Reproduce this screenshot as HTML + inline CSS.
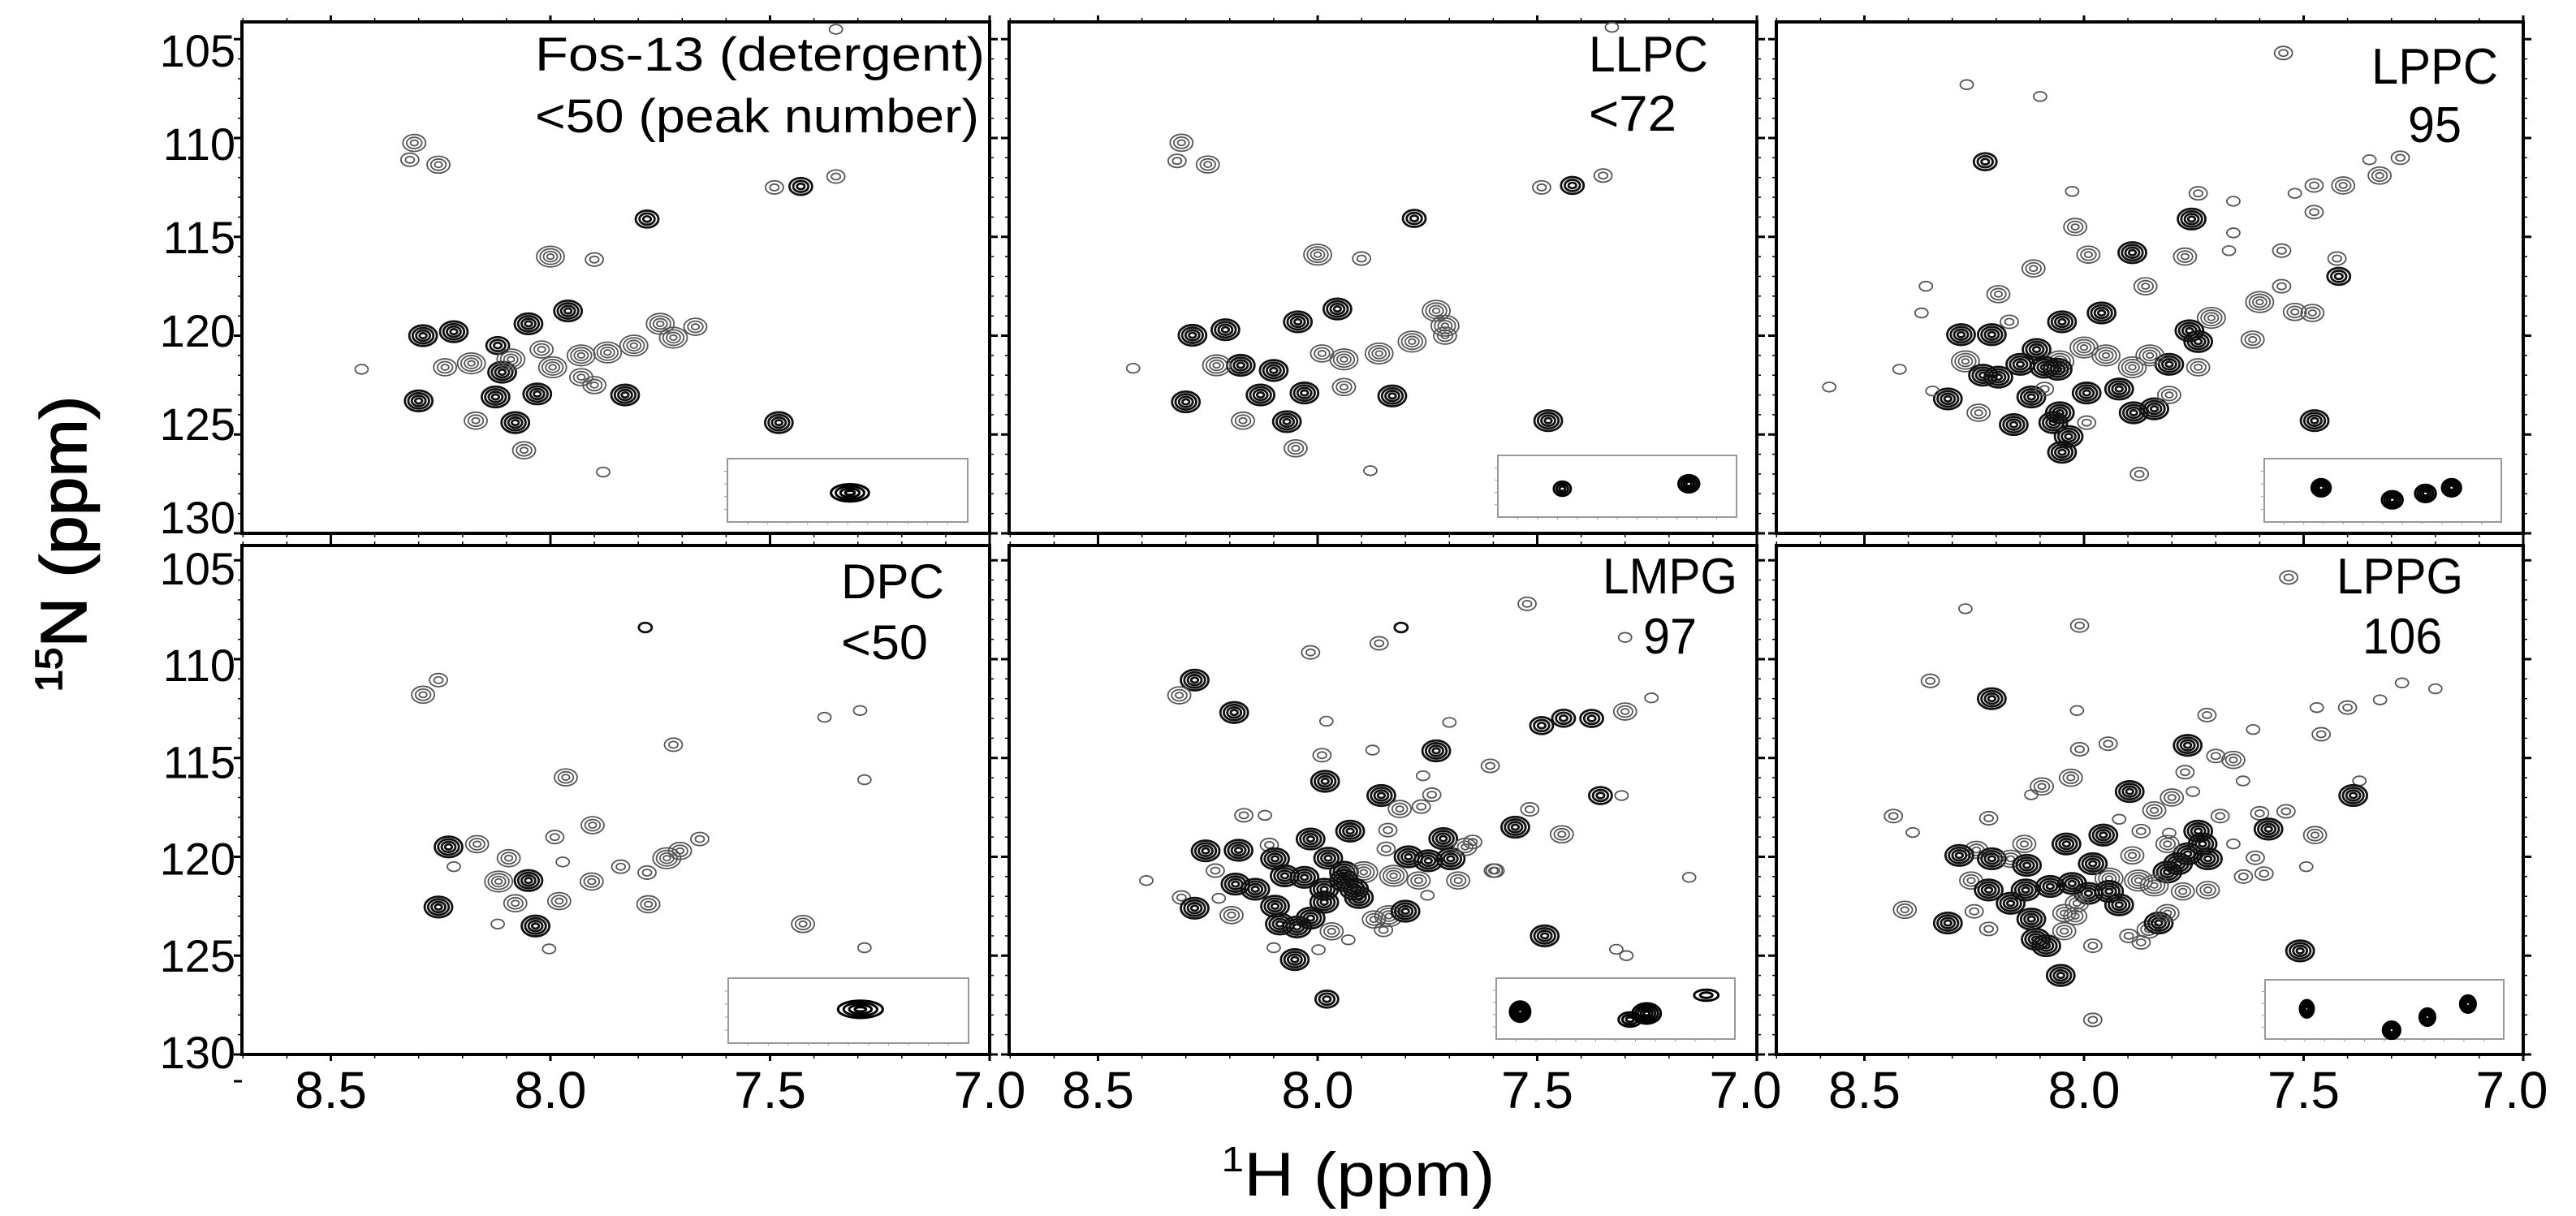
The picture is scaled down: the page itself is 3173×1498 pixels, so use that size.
<!DOCTYPE html>
<html><head><meta charset="utf-8"><title>HSQC spectra of protein in six detergents</title>
<style>
html,body{margin:0;padding:0;background:#fff;}
svg{display:block;}
text{font-family:"Liberation Sans",Arial,sans-serif;fill:#000;}
</style></head>
<body>
<svg id="fig" xmlns="http://www.w3.org/2000/svg" width="3173" height="1498" viewBox="0 0 3173 1498">
<rect x="0" y="0" width="3173" height="1498" fill="#fff"/>
<g id="panels"></g>
<g id="labels">
  <text x="659" y="87" font-size="58" textLength="554" lengthAdjust="spacingAndGlyphs">Fos-13 (detergent)</text>
  <text x="659" y="163" font-size="58" textLength="547" lengthAdjust="spacingAndGlyphs">&lt;50 (peak number)</text>
  <text x="1957" y="88" font-size="62" textLength="147" lengthAdjust="spacingAndGlyphs">LLPC</text>
  <text x="1957" y="161" font-size="62" textLength="108" lengthAdjust="spacingAndGlyphs">&lt;72</text>
  <text x="2921" y="103" font-size="62" textLength="156" lengthAdjust="spacingAndGlyphs">LPPC</text>
  <text x="2966" y="175" font-size="62" textLength="66" lengthAdjust="spacingAndGlyphs">95</text>
  <text x="1036" y="737" font-size="60" textLength="127" lengthAdjust="spacingAndGlyphs">DPC</text>
  <text x="1036" y="812" font-size="60" textLength="107" lengthAdjust="spacingAndGlyphs">&lt;50</text>
  <text x="1974" y="731" font-size="62" textLength="166" lengthAdjust="spacingAndGlyphs">LMPG</text>
  <text x="2024" y="805" font-size="62" textLength="66" lengthAdjust="spacingAndGlyphs">97</text>
  <text x="2878" y="731" font-size="62" textLength="156" lengthAdjust="spacingAndGlyphs">LPPG</text>
  <text x="2910" y="805" font-size="62" textLength="98" lengthAdjust="spacingAndGlyphs">106</text>
</g>
<g transform="translate(106,670) rotate(-90)">
  <text x="0" y="0" text-anchor="middle" font-size="80" textLength="365" lengthAdjust="spacingAndGlyphs" style="stroke:#000;stroke-width:1.5"><tspan font-size="46" dy="-30">15</tspan><tspan dy="30">N (ppm)</tspan></text>
</g>
<text x="1673" y="1473" text-anchor="middle" font-size="76" textLength="337" lengthAdjust="spacingAndGlyphs"><tspan font-size="44" dy="-30">1</tspan><tspan dy="30">H (ppm)</tspan></text>
<line x1="288" y1="1332" x2="298" y2="1332" stroke="#000" stroke-width="3"/>
</svg>
<script>
// ---- data: peaks as [1H ppm, 15N ppm, contour levels, strong(1)/weak(0)] ----
const peaksFos13 = [
[8.31,110.25,3,0],[8.32,111.1,2,0],[8.255,111.35,3,0],[7.49,112.5,2,0],[7.43,112.45,3,1],[7.35,111.95,2,0],
[7.78,114.1,3,1],[8.00,116.0,4,0],[7.90,116.15,2,0],[7.96,118.75,4,1],[8.29,120.0,4,1],[8.22,119.8,4,1],
[8.12,120.5,3,1],[8.11,121.85,4,1],[8.05,119.4,4,1],[8.30,123.3,4,1],[8.125,123.1,4,1],[8.03,122.95,4,1],
[8.08,124.4,4,1],[8.17,124.3,3,0],[7.83,123.0,4,1],[8.06,125.8,3,0],[7.48,124.4,4,1],[7.88,126.9,1,0],
[8.18,121.4,4,0],[8.09,121.2,4,0],[7.995,121.6,4,0],[7.93,121.0,4,0],[7.87,120.85,4,0],[7.81,120.5,4,0],
[7.75,119.4,4,0],[7.72,120.1,4,0],[7.67,119.55,3,0],[7.93,122.1,3,0],[7.90,122.5,3,0],[8.24,121.6,3,0],
[8.02,120.7,3,0],[8.43,121.7,1,0],[7.35,104.5,1,0]
];
const peaksLLPC = [
[8.31,110.24,3,0],[8.32,111.16,2,0],[8.25,111.34,3,0],[7.49,112.5,2,0],[7.42,112.4,3,1],[7.35,111.9,2,0],
[7.78,114.07,3,1],[8.00,115.9,4,0],[7.90,116.1,2,0],[7.955,118.65,4,1],[8.285,119.98,4,1],[8.21,119.7,4,1],
[8.045,119.3,4,1],[8.10,121.76,4,1],[8.175,121.5,4,1],[8.30,123.35,4,1],[8.13,123.0,4,1],[8.03,122.9,4,1],
[8.07,124.35,4,1],[8.17,124.3,3,0],[7.83,123.05,4,1],[8.05,125.7,3,0],[7.475,124.3,4,1],[7.88,126.83,1,0],
[8.42,121.65,1,0],[7.73,118.74,4,0],[7.71,119.5,4,0],[7.785,120.3,4,0],[7.86,120.9,4,0],[7.94,121.2,4,0],
[7.99,120.9,3,0],[8.23,121.5,4,0],[7.71,120.0,3,0],[7.94,122.6,3,0],[7.33,104.4,1,0]
];
const peaksLPPC = [
[7.546,105.7,2,0],[8.267,107.3,1,0],[8.10,107.9,1,0],[8.225,111.2,3,1],[7.28,111.0,2,0],[7.35,111.1,1,0],
[7.327,111.9,3,0],[7.41,112.4,3,0],[7.476,112.4,2,0],[7.52,112.8,1,0],[8.027,112.7,1,0],[7.74,112.8,2,0],
[7.66,113.2,1,0],[7.755,114.1,4,1],[7.476,113.75,2,0],[8.02,114.5,3,0],[7.66,114.8,1,0],[7.99,115.9,3,0],
[7.89,115.8,4,1],[7.77,116.0,3,0],[7.67,115.7,1,0],[7.55,115.7,2,0],[7.424,116.1,2,0],[7.42,117.0,3,1],
[8.115,116.6,3,0],[8.36,117.5,1,0],[8.37,118.85,1,0],[8.195,117.9,3,0],[7.86,117.5,3,0],[7.55,117.5,2,0],
[7.60,118.3,4,0],[7.52,118.8,3,0],[7.48,118.85,3,0],[8.17,119.3,2,0],[7.96,118.85,4,1],[8.05,119.3,4,1],
[8.28,119.95,4,1],[8.21,119.95,4,1],[8.108,120.7,4,1],[7.71,119.1,4,0],[7.616,120.2,3,0],[7.76,119.75,4,1],
[7.74,120.3,4,1],[7.806,121.45,4,1],[7.74,121.6,3,0],[8.27,121.3,4,0],[8.0,120.6,4,0],[7.95,121.0,4,0],
[7.89,121.6,4,0],[7.85,121.0,4,0],[8.055,121.3,4,0],[8.23,122.0,4,1],[8.195,122.1,4,1],[8.145,121.45,4,1],
[8.09,121.6,4,1],[8.06,121.7,4,1],[8.31,123.2,4,1],[8.24,123.9,3,0],[8.12,123.1,4,1],[7.994,122.9,4,1],
[7.92,122.7,4,1],[8.09,122.7,2,0],[8.16,124.5,4,1],[8.055,123.9,4,1],[8.07,124.4,4,1],[8.035,125.1,4,1],
[8.05,125.9,4,1],[7.887,123.9,4,1],[7.84,123.7,4,1],[7.806,123.0,3,0],[7.994,124.4,2,0],[7.475,124.3,4,1],
[7.874,127.0,2,0],[8.58,122.6,1,0],[8.42,121.7,1,0],[8.345,122.8,1,0]
];
const peaksDPC = [
[7.784,108.4,1,1],[8.255,111.06,2,0],[8.29,111.8,3,0],[7.376,112.94,1,0],[7.295,112.6,1,0],[7.72,114.33,2,0],
[7.965,115.98,3,0],[7.285,116.1,1,0],[7.904,118.4,3,0],[7.99,119.0,2,0],[8.232,119.5,4,1],[8.167,119.36,3,0],
[8.05,121.2,4,1],[8.118,121.25,4,0],[8.095,120.07,3,0],[7.972,120.26,1,0],[7.906,121.25,3,0],[7.84,120.5,2,0],
[7.735,120.07,4,0],[7.705,119.7,3,0],[7.66,119.1,2,0],[7.78,120.8,2,0],[8.255,122.54,4,1],[8.08,122.35,3,0],
[7.98,122.24,3,0],[7.777,122.4,3,0],[8.034,123.5,4,1],[8.12,123.4,1,0],[8.003,124.66,1,0],[7.425,123.4,3,0],
[7.285,124.6,1,0],[8.22,120.5,1,0]
];
const peaksLMPG = [
[7.523,107.2,2,0],[7.81,108.4,1,1],[7.86,109.2,2,0],[8.016,109.66,2,0],[7.30,108.9,1,0],[8.28,111.06,4,1],
[8.315,111.83,3,0],[8.19,112.7,4,1],[7.98,113.14,1,0],[7.70,113.2,1,0],[7.49,113.36,3,1],[7.44,112.99,3,1],
[7.376,113.0,3,1],[7.30,112.65,3,0],[7.24,111.96,1,0],[7.73,114.64,4,1],[7.99,114.86,2,0],[7.875,114.6,1,0],
[7.607,115.4,2,0],[7.76,115.9,1,0],[7.983,116.18,4,1],[7.855,116.9,4,1],[7.74,116.86,2,0],[7.813,117.58,3,0],
[7.764,117.46,2,0],[7.356,116.9,3,1],[7.308,116.9,1,0],[7.517,117.6,2,0],[8.168,117.9,2,0],[8.12,117.9,1,0],
[7.926,118.7,4,1],[7.84,118.65,2,0],[8.016,119.1,4,1],[7.55,118.5,4,1],[7.444,118.86,3,0],[8.255,119.7,4,1],
[8.18,119.67,4,1],[8.11,119.4,2,0],[7.844,119.6,2,0],[8.097,120.1,4,1],[7.976,120.07,4,1],[7.793,120.0,4,1],
[7.748,120.2,4,1],[7.714,119.08,4,1],[7.697,120.1,4,1],[7.664,119.5,3,0],[7.647,119.25,2,0],[7.60,120.7,2,0],
[8.233,120.7,2,0],[8.187,121.38,4,1],[8.142,121.64,4,1],[8.075,120.96,4,1],[8.03,121.04,4,1],[7.94,120.78,4,1],
[7.895,120.78,4,0],[7.94,121.2,4,1],[7.985,121.64,4,1],[7.917,121.64,4,1],[7.827,120.96,4,0],[7.77,121.2,3,0],
[7.68,121.2,3,0],[7.985,122.3,4,1],[7.906,122.06,4,1],[8.31,122.06,2,0],[8.225,122.1,1,0],[8.28,122.6,4,1],
[8.196,122.95,3,0],[8.097,122.5,4,1],[8.086,123.4,4,1],[8.047,123.55,4,1],[8.016,123.1,4,1],[7.968,123.77,3,0],
[7.872,123.17,3,0],[7.838,123.0,4,0],[7.80,122.75,4,1],[7.85,123.7,2,0],[7.75,121.95,1,0],[7.154,121.04,1,0],
[8.39,121.2,1,0],[7.483,124.0,4,1],[8.10,124.6,1,0],[8.052,125.2,4,1],[7.998,124.7,1,0],[7.93,124.2,1,0],
[7.32,124.68,1,0],[7.297,125.0,1,0],[7.979,127.2,3,1],[7.596,120.7,2,0]
];
const peaksLPPG = [
[7.534,105.87,2,0],[8.27,107.45,1,0],[8.01,108.3,2,0],[8.35,111.1,2,0],[8.21,112.0,4,1],[8.016,112.6,1,0],
[7.276,111.2,1,0],[7.20,111.5,1,0],[7.326,112.06,1,0],[7.40,112.45,2,0],[7.47,112.45,1,0],[7.46,113.8,2,0],
[7.72,112.83,2,0],[7.615,113.56,1,0],[7.764,114.36,4,1],[7.945,114.28,2,0],[8.01,114.56,2,0],[7.66,115.1,3,0],
[7.70,114.9,2,0],[7.77,115.72,2,0],[7.638,116.16,1,0],[8.03,116.0,3,0],[8.096,116.44,3,0],[8.12,116.86,1,0],
[7.896,116.7,4,1],[7.752,116.7,1,0],[7.80,117.0,3,0],[7.84,117.65,3,0],[7.373,116.16,1,0],[7.387,116.9,4,1],
[7.69,117.94,2,0],[7.60,117.8,2,0],[7.54,117.7,2,0],[8.434,117.94,2,0],[8.217,118.05,2,0],[8.39,118.77,1,0],
[7.92,118.1,1,0],[7.956,118.9,4,1],[7.87,118.7,2,0],[7.806,118.8,1,0],[7.58,118.6,4,1],[7.474,118.9,3,0],
[8.04,119.35,4,1],[8.136,119.35,3,0],[8.245,119.65,3,0],[7.89,119.93,3,0],[7.66,119.35,1,0],[8.284,119.93,4,1],
[8.21,120.1,4,1],[8.167,120.1,3,0],[8.13,120.43,4,1],[7.74,118.7,4,1],[7.73,119.35,4,1],[7.764,119.85,4,1],
[7.718,120.1,4,1],[7.786,120.35,4,1],[7.81,120.77,4,1],[7.81,119.35,3,0],[7.61,120.05,2,0],[7.59,120.85,2,0],
[7.637,121.0,2,0],[7.494,120.5,1,0],[8.257,121.2,3,0],[8.217,121.68,4,1],[8.167,122.35,4,1],[8.133,121.68,4,1],
[8.077,121.5,4,1],[8.027,121.35,4,1],[7.98,120.35,4,1],[7.943,121.1,4,0],[7.99,121.85,4,1],[7.943,121.75,4,1],
[7.876,121.2,4,0],[7.84,121.45,4,0],[7.775,121.75,3,0],[7.718,121.68,3,0],[8.016,122.35,3,0],[7.92,122.43,4,1],
[8.408,122.68,3,0],[8.25,122.76,2,0],[8.31,123.35,4,1],[8.217,123.65,2,0],[8.12,123.15,4,1],[8.045,122.85,3,0],
[8.02,123.0,3,0],[8.11,124.17,4,1],[8.086,124.5,4,1],[8.045,123.76,3,0],[7.98,124.5,2,0],[7.898,124.0,2,0],
[7.853,123.68,3,0],[7.83,123.35,4,1],[7.81,122.85,3,0],[7.87,124.33,2,0],[7.508,124.76,4,1],[8.053,126.0,4,1],
[7.98,128.25,2,0]
];
// inset peaks: [fraction across inset, fraction down inset, levels, elongation]
const insetFos13 = [[0.51,0.54,4,2.2]];
const insetLLPC = [[0.27,0.54,3,1.2],[0.80,0.46,4,1.2]];
const insetLPPC = [[0.24,0.46,4,1.1],[0.54,0.65,4,1.2],[0.68,0.55,4,1.2],[0.79,0.46,4,1.1]];
const insetDPC = [[0.55,0.48,4,2.6]];
const insetLMPG = [[0.10,0.55,5,1.0],[0.63,0.58,5,1.4],[0.56,0.68,3,1.6],[0.88,0.28,2,2.2]];
const insetLPPG = [[0.175,0.49,4,0.8],[0.53,0.85,4,1.0],[0.68,0.63,4,0.9],[0.85,0.41,4,0.9]];
// axis ticks
const hMajorTicks = [8.5, 8.0, 7.5, 7.0];
const hTickLabels = ["8.5", "8.0", "7.5", "7.0"];
const nMajorTicks = [105, 110, 115, 120, 125, 130];
const nTickLabels = ["105", "110", "115", "120", "125", "130"];

// ---- layout ----
const NS = "http://www.w3.org/2000/svg";
const colLeft = [298, 1243, 2188], colRight = [1219, 2164, 3108];
const rowTop = [27, 672], rowBottom = [657, 1299];
const pxPerPpmH = 541, pxPerPpmN = 24.35;
function xScale(col, h) { return colRight[col] - (h - 7.0) * pxPerPpmH; }
function yScale(row, n) { return rowBottom[row] - (130 - n) * pxPerPpmN; }
const panelDefs = [
  {name: "fos13", row: 0, col: 0, peaks: peaksFos13, inset: insetFos13, box: [896, 565, 296, 78]},
  {name: "llpc", row: 0, col: 1, peaks: peaksLLPC, inset: insetLLPC, box: [1845, 561, 294, 76]},
  {name: "lppc", row: 0, col: 2, peaks: peaksLPPC, inset: insetLPPC, box: [2789, 565, 292, 78]},
  {name: "dpc", row: 1, col: 0, peaks: peaksDPC, inset: insetDPC, box: [897, 1205, 296, 80]},
  {name: "lmpg", row: 1, col: 1, peaks: peaksLMPG, inset: insetLMPG, box: [1843, 1205, 294, 75]},
  {name: "lppg", row: 1, col: 2, peaks: peaksLPPG, inset: insetLPPG, box: [2790, 1207, 294, 73]}
];
function mk(tag, attrs, parent) {
  const e = document.createElementNS(NS, tag);
  for (const k in attrs) e.setAttribute(k, attrs[k]);
  parent.appendChild(e);
  return e;
}
const root = document.getElementById("panels");

panelDefs.forEach(function (p) {
  const g = mk("g", {}, root);
  
  
  const L = colLeft[p.col], R = colRight[p.col], T = rowTop[p.row], B = rowBottom[p.row];
  const tg = mk("g", {stroke: "#000", "stroke-width": 2}, g);
  
  
  for (let n = 104; n <= 130; n++) {
    const y = yScale(p.row, n);
    if (y < T) continue;
    const len = (n % 5 === 0) ? 10 : 5;
    const t1 = mk("line", {x1: L - len, y1: y, x2: L, y2: y, "stroke-width": n % 5 === 0 ? 3 : 1.5}, tg);
    
    
    const t2 = mk("line", {x1: R, y1: y, x2: R + len, y2: y, "stroke-width": n % 5 === 0 ? 3 : 1.5}, tg);
    
    
  }
  for (let i = 0; i <= 17; i++) {
    const h = 7.0 + i * 0.1;
    const x = xScale(p.col, h);
    if (x < L) continue;
    const major = (i % 5 === 0);
    const len = major ? 8 : 5;
    const t3 = mk("line", {x1: x, y1: T - len, x2: x, y2: T, "stroke-width": major ? 3 : 1.5}, tg);
    
    
    const t4 = mk("line", {x1: x, y1: B, x2: x, y2: B + len, "stroke-width": major ? 3 : 1.5}, tg);
    
    
  }
  const fr = mk("rect", {x: L, y: T, width: R - L, height: B - T, fill: "none", stroke: "#000", "stroke-width": 4}, g);
  
  
  const pg = mk("g", {fill: "none"}, g);
  
  
  p.peaks.forEach(function (pk) {
    const cx = xScale(p.col, pk[0]), cy = yScale(p.row, pk[1]);
    const lv = pk[2], strong = pk[3] === 1;
    const rx = 5 + lv * 3.0, ry = 3.5 + lv * 2.3;
    const pkG = mk("g", {stroke: strong ? "#111" : "#555", "stroke-width": strong ? 2.8 : 1.8}, pg);
    
    
    for (let k = lv; k >= 1; k--) {
      const el = mk("ellipse", {cx: cx, cy: cy, rx: rx * k / lv, ry: ry * k / lv}, pkG);
      
      
    }
  });
  const b = p.box;
  const ig = mk("g", {}, g);
  
  
  const ib = mk("rect", {x: b[0], y: b[1], width: b[2], height: b[3], fill: "#fff", stroke: "#999", "stroke-width": 2}, ig);
  
  
  for (let i = 1; i < 12; i++) {
    const x = b[0] + b[2] * i / 12;
    const it = mk("line", {x1: x, y1: b[1] + b[3], x2: x, y2: b[1] + b[3] + 3, stroke: "#999", "stroke-width": 1}, ig);
    
    
  }
  for (let i = 1; i < 5; i++) {
    const y = b[1] + b[3] * i / 5;
    const it2 = mk("line", {x1: b[0] - 4, y1: y, x2: b[0], y2: y, stroke: "#999", "stroke-width": 1}, ig);
    
    
  }
  p.inset.forEach(function (q) {
    const cx = b[0] + q[0] * b[2], cy = b[1] + q[1] * b[3];
    const lv = q[2], ry = 3 + lv * 1.9, rx = ry * q[3];
    for (let k = lv; k >= 1; k--) {
      const ie = mk("ellipse", {cx: cx, cy: cy, rx: rx * k / lv, ry: ry * k / lv, fill: "none", stroke: "#000", "stroke-width": 3}, ig);
      
      
    }
  });
  if (p.col === 0) {
    nMajorTicks.forEach(function (n, i) {
      const center = (p.row === 0 ? 62 : 700) + (n - 105) / 25 * (p.row === 0 ? 575 : 596);
      const tl = mk("text", {x: 290, y: center + 20, "text-anchor": "end", "font-size": 56}, g);
      tl.textContent = nTickLabels[i];
      
      
    });
  }
  if (p.row === 1) {
    hMajorTicks.forEach(function (h, i) {
      const xl = mk("text", {x: xScale(p.col, h) - (h === 7.0 && p.col > 0 ? 14 : 0), y: 1365, "text-anchor": "middle", "font-size": 64}, g);
      xl.textContent = hTickLabels[i];
      
      
    });
  }
});
</script>
</body></html>
